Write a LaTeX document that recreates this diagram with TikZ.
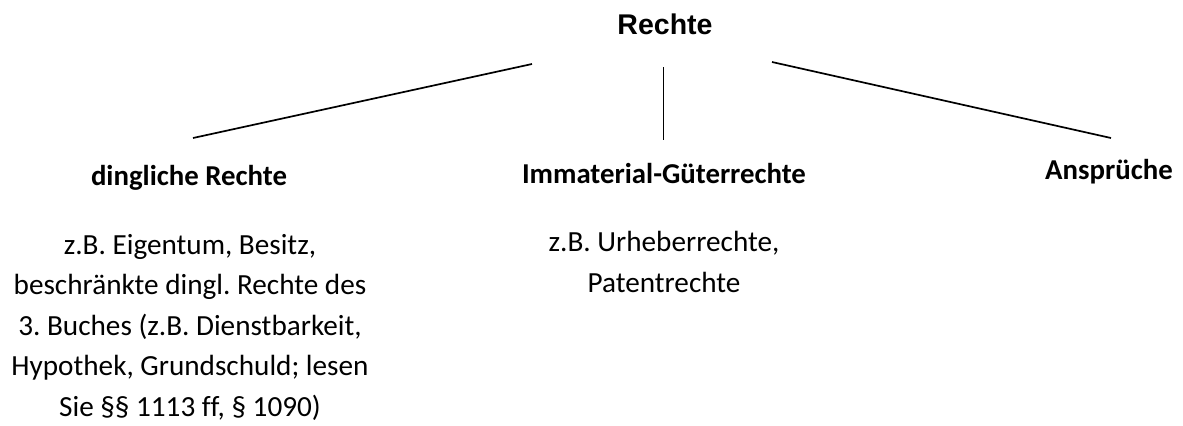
\documentclass[tikz,border=0pt]{standalone}
\usepackage{fontspec}
\usepackage{tikz}
\usetikzlibrary{positioning}
\setmainfont{Carlito}[Ligatures=NoCommon]
\newfontfamily\arialfont{Liberation Sans}
\frenchspacing
\tikzset{
    rtnode/.style={inner sep=0pt, anchor=base},
    headnode/.style={rtnode, font=\arialfont\bfseries\fontsize{14.25}{17}\selectfont},
    catnode/.style={rtnode, font=\bfseries\fontsize{14.4}{17.5}\selectfont},
    textnode/.style={rtnode, align=center, font=\fontsize{14.6}{20.25}\selectfont},
    rtline/.style={draw, line width=0.85pt}
}

\begin{document}
\begin{tikzpicture}[x=0.5pt, y=-0.5pt]
    \useasboundingbox (0,0) rectangle (1183,425);
    \node[headnode] (rechte) at (665,34) {Rechte};
    \node[catnode] (dinglich) at (189,185) {dingliche Rechte};
    \node[catnode] (immat) at (664,183) {Immaterial-Güterrechte};
    \node[catnode] (anspr) at (1109,179) {Ansprüche};
    % base = last line
    \node[textnode] (dinglichtxt) at (190,416) {z.B. Eigentum, Besitz,\\beschränkte dingl. Rechte des\\3. Buches (z.B. Dienstbarkeit,\\Hypothek, Grundschuld; lesen\\Sie §§ 1113 ff, § 1090)};
    \node[textnode] (immattxt) at (664,292) {z.B. Urheberrechte,\\Patentrechte};
    % line ends
    \coordinate (l1) at (532,64);
    \coordinate (l2) at (193,138);
    \coordinate (m1) at (663.5,67);
    \coordinate (m2) at (663.5,140);
    \coordinate (r1) at (772,62);
    \coordinate (r2) at (1111,138);
    \draw[rtline] (l1) -- (l2);
    \draw[rtline, line width=0.5pt] (m1) -- (m2);
    \draw[rtline] (r1) -- (r2);
\end{tikzpicture}
\end{document}
